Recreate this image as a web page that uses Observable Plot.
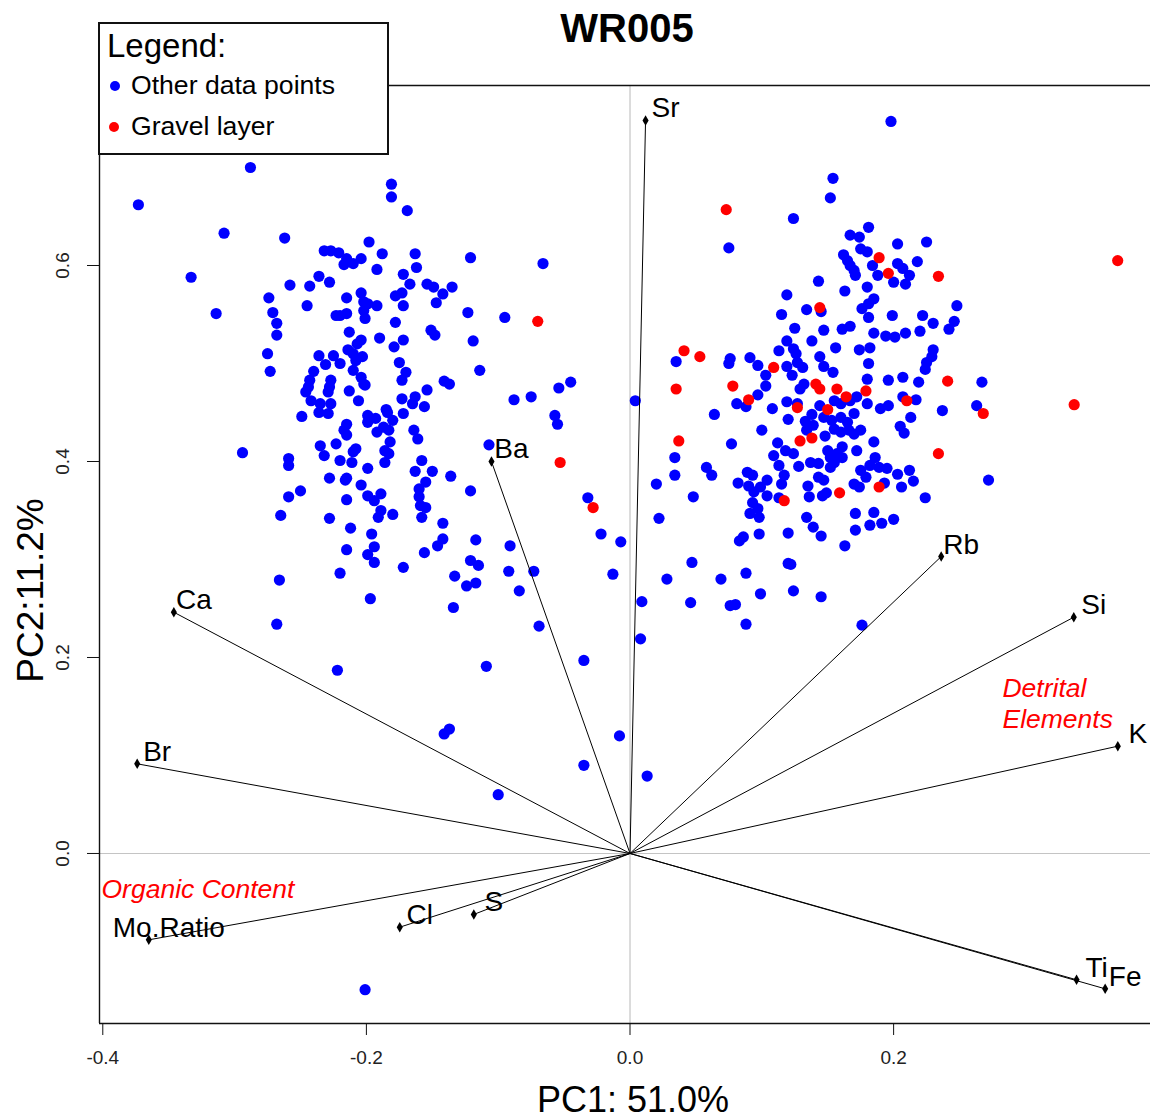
<!DOCTYPE html>
<html><head><meta charset="utf-8">
<script src="https://cdn.jsdelivr.net/npm/d3@7"></script>
<script src="https://cdn.jsdelivr.net/npm/@observablehq/plot@0.6"></script>
<style>
body{margin:0;background:#fff;font-family:"Liberation Sans",Arial,sans-serif;}
#wrap{position:relative;width:1150px;height:1119px;overflow:hidden;background:#fff;}
#chart{position:absolute;left:0;top:0;}
#title{position:absolute;left:477px;width:300px;top:8px;text-align:center;font-weight:bold;font-size:40px;line-height:1;color:#000;}
#legend{position:absolute;left:98px;top:22px;width:291px;height:133px;box-sizing:border-box;border:2px solid #111;background:#fff;}
.lg{position:absolute;line-height:1;color:#000;white-space:nowrap;}
.dot{position:absolute;width:10px;height:10px;border-radius:50%;}
</style></head>
<body>
<div id="wrap">
  <div id="chart"></div>
  <div id="title">WR005</div>
  <div id="legend"></div>
  <div class="lg" id="lgTitle" style="left:107px;top:29px;font-size:33px;"></div>
  <div class="dot" id="dot0" style="left:110px;top:81px;"></div>
  <div class="lg" id="lg0" style="left:131px;top:72px;font-size:26.6px;"></div>
  <div class="dot" id="dot1" style="left:109px;top:122px;"></div>
  <div class="lg" id="lg1" style="left:131px;top:113px;font-size:26.6px;"></div>
</div>
<script>
// ---------- data ----------
const title = "WR005";
const xLabel = "PC1: 51.0%";
const yLabel = "PC2:11.2%";
const legendTitle = "Legend:";
const groupNames = ["Other data points", "Gravel layer"];
const groupColors = ["#0000FF", "#FF0000"];

const xDomain = [-0.4025, 0.3949];
const yDomain = [-0.1735, 0.7837];
const xTicks = [-0.4, -0.2, 0.0, 0.2];
const yTicks = [0.0, 0.2, 0.4, 0.6];

// PC scores: other data points
const otherPoints = [
[-0.288,0.700],[-0.373,0.662],[-0.308,0.633],[-0.262,0.628],[-0.333,0.588],[-0.314,0.551],[-0.274,0.567],[-0.271,0.552],[-0.268,0.541],[-0.268,0.529],[-0.275,0.510],[-0.273,0.492],[-0.258,0.580],[-0.243,0.579],[-0.236,0.589],[-0.228,0.583],[-0.245,0.559],[-0.232,0.615],[-0.227,0.615],[-0.221,0.613],[-0.215,0.607],[-0.217,0.601],[-0.215,0.567],[-0.223,0.549],[-0.220,0.549],[-0.215,0.551],[-0.213,0.532],[-0.214,0.514],[-0.236,0.508],[-0.231,0.499],[-0.225,0.508],[-0.220,0.500],[-0.240,0.492],[-0.243,0.483],[-0.244,0.476],[-0.246,0.471],[-0.227,0.483],[-0.228,0.476],[-0.229,0.471],[-0.242,0.462],[-0.235,0.459],[-0.227,0.459],[-0.213,0.472],
[-0.181,0.683],[-0.181,0.670],[-0.169,0.656],[-0.198,0.624],[-0.210,0.602],[-0.204,0.607],[-0.188,0.612],[-0.163,0.612],[-0.162,0.598],[-0.192,0.596],[-0.121,0.608],[-0.066,0.602],[-0.172,0.591],[-0.167,0.581],[-0.154,0.581],[-0.149,0.578],[-0.142,0.571],[-0.135,0.578],[-0.147,0.562],[-0.204,0.572],[-0.202,0.563],[-0.199,0.561],[-0.192,0.559],[-0.202,0.554],[-0.201,0.546],[-0.178,0.569],[-0.173,0.572],[-0.172,0.559],[-0.178,0.542],[-0.123,0.552],[-0.095,0.547],[-0.204,0.524],[-0.207,0.520],[-0.190,0.526],[-0.172,0.524],[-0.179,0.517],[-0.151,0.534],[-0.148,0.529],[-0.119,0.523],[-0.210,0.510],[-0.203,0.507],[-0.208,0.503],[-0.175,0.501],[-0.170,0.491],[-0.173,0.483],[-0.210,0.493],[-0.204,0.486],[-0.202,0.479],[-0.201,0.478],[-0.141,0.482],[-0.137,0.479],[-0.114,0.493],[-0.206,0.462],[-0.154,0.473],[-0.173,0.464],[-0.163,0.466],[-0.165,0.459],[-0.156,0.456],[-0.185,0.453],[-0.088,0.463],[-0.075,0.466],[-0.054,0.475],
[-0.294,0.409],[-0.259,0.403],[-0.259,0.396],[-0.249,0.446],[-0.236,0.450],[-0.229,0.449],[-0.199,0.447],[-0.193,0.444],[-0.199,0.440],[-0.184,0.450],[-0.180,0.442],[-0.187,0.435],[-0.192,0.430],[-0.183,0.432],[-0.172,0.449],[-0.215,0.438],[-0.217,0.432],[-0.215,0.427],[-0.223,0.418],[-0.235,0.416],[-0.232,0.406],[-0.208,0.413],[-0.210,0.410],[-0.220,0.401],[-0.211,0.399],[-0.182,0.420],[-0.186,0.411],[-0.183,0.408],[-0.186,0.399],[-0.164,0.432],[-0.161,0.423],[-0.199,0.393],[-0.228,0.383],[-0.215,0.383],[-0.216,0.381],[-0.204,0.376],[-0.250,0.370],[-0.259,0.364],[-0.265,0.345],[-0.215,0.361],[-0.199,0.365],[-0.194,0.360],[-0.189,0.367],[-0.189,0.350],[-0.191,0.343],[-0.180,0.346],[-0.228,0.342],[-0.158,0.401],[-0.163,0.390],[-0.150,0.390],[-0.155,0.379],[-0.160,0.372],[-0.160,0.364],[-0.159,0.355],[-0.155,0.353],[-0.158,0.343],[-0.136,0.385],[-0.121,0.370],[-0.107,0.417],[-0.142,0.337],[-0.212,0.332],[-0.196,0.326],[-0.215,0.310],[-0.194,0.313],[-0.199,0.305],[-0.194,0.297],[-0.142,0.321],[-0.146,0.314],[-0.156,0.307],[-0.117,0.320],[-0.091,0.314],[-0.172,0.292],[-0.220,0.286],[-0.121,0.299],[-0.115,0.294],[-0.133,0.283],[-0.124,0.273],[-0.117,0.276],[-0.092,0.288],[-0.073,0.288],[-0.084,0.268],[-0.266,0.279],[-0.197,0.260],[-0.134,0.251],[-0.268,0.234],[-0.069,0.232],[-0.057,0.447],[-0.055,0.438],[-0.222,0.187],[-0.109,0.191],[-0.141,0.122],[-0.137,0.127],[-0.100,0.060],[-0.201,-0.139],
[-0.045,0.481],[0.004,0.462],[-0.032,0.363],[-0.022,0.326],[-0.007,0.318],[-0.013,0.285],[0.008,0.219],[-0.035,0.197],[-0.008,0.120],[-0.035,0.090],[0.013,0.079],
[0.198,0.747],[0.154,0.689],[0.152,0.669],[0.124,0.648],[0.075,0.618],[0.181,0.639],[0.167,0.631],[0.174,0.629],[0.175,0.617],[0.180,0.614],[0.162,0.611],[0.165,0.605],[0.167,0.600],[0.170,0.595],[0.171,0.590],[0.203,0.622],[0.203,0.602],[0.184,0.600],[0.188,0.590],[0.180,0.578],[0.200,0.583],[0.143,0.584],[0.119,0.570],[0.163,0.574],[0.185,0.566],[0.181,0.561],[0.176,0.556],[0.181,0.547],[0.134,0.555],[0.145,0.553],[0.115,0.550],[0.199,0.549],[0.125,0.536],[0.147,0.534],[0.161,0.535],[0.167,0.538],[0.185,0.531],[0.194,0.528],[0.201,0.527],[0.138,0.523],[0.119,0.523],[0.113,0.513],[0.124,0.515],[0.126,0.510],[0.156,0.516],[0.174,0.514],[0.182,0.516],[0.035,0.502],[0.076,0.505],[0.075,0.500],[0.091,0.506],[0.097,0.498],[0.119,0.497],[0.127,0.501],[0.131,0.496],[0.123,0.488],[0.144,0.507],[0.147,0.497],[0.154,0.491],[0.181,0.500],[0.103,0.488],[0.103,0.477],[0.180,0.484],[0.196,0.483],[0.097,0.468],[0.081,0.459],[0.088,0.456],[0.108,0.454],[0.064,0.448],[0.119,0.461],[0.127,0.459],[0.132,0.479],[0.129,0.474],[0.144,0.457],[0.155,0.462],[0.160,0.459],[0.167,0.462],[0.172,0.466],[0.180,0.459],[0.190,0.454],[0.196,0.457],[0.138,0.448],[0.133,0.441],[0.139,0.437],[0.134,0.432],[0.147,0.445],[0.153,0.442],[0.160,0.445],[0.165,0.440],[0.170,0.449],[0.120,0.443],[0.100,0.432],[0.155,0.433],[0.160,0.430],[0.166,0.432],[0.170,0.428],[0.175,0.432],[0.148,0.426],[0.077,0.418],[0.112,0.419],[0.118,0.411],[0.124,0.408],[0.109,0.406],[0.113,0.396],[0.128,0.395],[0.137,0.399],[0.143,0.398],[0.150,0.411],[0.152,0.404],[0.157,0.408],[0.161,0.415],[0.161,0.404],[0.155,0.399],[0.152,0.394],[0.172,0.411],[0.185,0.420],[0.186,0.404],[0.182,0.396],[0.189,0.394],[0.195,0.393],[0.175,0.391],[0.058,0.394],[0.062,0.386],[0.034,0.404],[0.034,0.386],[0.089,0.389],[0.093,0.386],[0.117,0.386],[0.115,0.377],[0.143,0.384],[0.147,0.381],[0.203,0.387],[0.179,0.384],[0.170,0.377],[0.174,0.374],[0.104,0.381],[0.099,0.374],[0.090,0.375],[0.082,0.378],[0.020,0.377],[0.048,0.364],[0.022,0.342],[0.149,0.368],[0.146,0.365],[0.135,0.375],[0.136,0.364],[0.113,0.363],[0.104,0.365],[0.094,0.369],[0.093,0.358],[0.097,0.352],[0.091,0.347],[0.098,0.343],[0.134,0.343],[0.139,0.333],[0.120,0.327],[0.145,0.324],[0.171,0.347],[0.185,0.348],[0.171,0.330],[0.182,0.335],[0.191,0.337],[0.200,0.341],[0.163,0.314],[0.086,0.323],[0.083,0.319],[0.098,0.326],[0.120,0.296],[0.122,0.295],[0.047,0.297],[0.028,0.280],[0.069,0.280],[0.088,0.286],[0.009,0.257],[0.046,0.256],[0.076,0.253],[0.080,0.254],[0.099,0.265],[0.124,0.268],[0.145,0.262],[0.088,0.234],[0.176,0.233],
[0.225,0.624],[0.207,0.597],[0.212,0.590],[0.209,0.581],[0.218,0.604],[0.248,0.559],[0.222,0.549],[0.230,0.541],[0.246,0.543],[0.242,0.535],[0.209,0.531],[0.220,0.533],[0.230,0.514],[0.229,0.507],[0.225,0.501],[0.224,0.494],[0.207,0.486],[0.219,0.481],[0.267,0.481],[0.207,0.466],[0.217,0.463],[0.237,0.452],[0.263,0.457],[0.213,0.445],[0.205,0.436],[0.208,0.429],[0.212,0.391],[0.215,0.380],[0.206,0.374],[0.193,0.378],[0.272,0.381],[0.224,0.363]
];

// PC scores: gravel layer
const gravelPoints = [
[-0.070,0.543],[-0.053,0.399],[-0.028,0.353],[0.073,0.657],[0.189,0.608],[0.196,0.592],[0.144,0.557],[0.041,0.513],[0.053,0.507],[0.109,0.496],[0.035,0.474],[0.078,0.477],[0.090,0.463],[0.127,0.455],[0.141,0.479],[0.144,0.474],[0.157,0.474],[0.164,0.466],[0.179,0.472],[0.150,0.453],[0.129,0.421],[0.138,0.424],[0.037,0.421],[0.189,0.374],[0.159,0.368],[0.117,0.360],[0.234,0.589],[0.370,0.605],[0.241,0.482],[0.210,0.462],[0.268,0.449],[0.337,0.458],[0.234,0.408]
];

// loadings (arrows)
const loadingNames = ["Sr","Ba","Ca","Br","Mo.Ratio","Cl","S","Ti","Fe","K","Si","Rb"];
const loadingPC1  = [0.0118,-0.1051,-0.3461,-0.3739,-0.3651,-0.1747,-0.1185,0.3388,0.3605,0.3701,0.3367,0.2361];
const loadingPC2  = [0.748, 0.400, 0.2462, 0.0915,-0.0881,-0.0752,-0.0622,-0.1289,-0.1381,0.1095,0.2411,0.303];

// group annotations
const annotationText = ["Organic Content", "Detrital\nElements"];
const annotationX = [-0.401, 0.2826];
const annotationY = [-0.0357, 0.1536];

// ---------- build ----------
const other = otherPoints.map(([x, y]) => ({x, y}));
const gravel = gravelPoints.map(([x, y]) => ({x, y}));
const loadings = loadingNames.map((name, i) => ({name, x: loadingPC1[i], y: loadingPC2[i]}));
const notes = annotationText.map((t, i) => ({t, x: annotationX[i], y: annotationY[i]}));
const fmt = d => d.toFixed(1);
const font = "'Liberation Sans', Arial, sans-serif";

const chart = Plot.plot({
  width: 1150,
  height: 1119,
  marginLeft: 99,
  marginRight: 0,
  marginTop: 85,
  marginBottom: 96,
  style: {fontFamily: font, background: "transparent", overflow: "visible"},
  x: {domain: xDomain},
  y: {domain: yDomain},
  marks: [
    Plot.ruleX([0], {stroke: "#c4c4c4", strokeWidth: 1.2}),
    Plot.ruleY([0], {stroke: "#c4c4c4", strokeWidth: 1.2}),
    Plot.dot(other, {x: "x", y: "y", r: 5.6, fill: groupColors[0], stroke: "none"}),
    Plot.dot(gravel, {x: "x", y: "y", r: 5.6, fill: groupColors[1], stroke: "none"}),
    Plot.link(loadings, {x1: () => 0, y1: () => 0, x2: "x", y2: "y", stroke: "#000", strokeWidth: 1}),
    Plot.dot(loadings, {x: "x", y: "y", symbol: "diamond", r: 3.2, fill: "#000", stroke: "none"}),
    Plot.text(loadings, {x: "x", y: "y", text: "name", dx: 20, dy: -12, fontSize: 28, fill: "#000", textAnchor: "middle", lineAnchor: "middle"}),
    Plot.text(notes, {x: "x", y: "y", text: "t", fontSize: 26.5, fontStyle: "italic", fill: "#FF0000", textAnchor: "start", lineAnchor: "middle", lineHeight: 1.17}),
    // frame (top, left, bottom)
    Plot.ruleY([yDomain[1]], {stroke: "#111", strokeWidth: 1.4}),
    Plot.ruleY([yDomain[0]], {stroke: "#111", strokeWidth: 1.4}),
    Plot.ruleX([xDomain[0]], {stroke: "#111", strokeWidth: 1.4}),
    // axes
    Plot.axisX(xTicks, {anchor: "bottom", tickSize: 12, tickPadding: 15, fontSize: 19, tickFormat: fmt, label: null, stroke: "#111", fill: "#222"}),
    Plot.axisY(yTicks, {anchor: "left", tickSize: 12, tickFormat: () => "", label: null, stroke: "#111"}),
    Plot.text(yTicks, {x: () => xDomain[0], y: d => d, text: d => fmt(d), rotate: -90, dx: -37, fontSize: 19, fill: "#222", textAnchor: "middle", lineAnchor: "middle"}),
    Plot.text([xLabel], {frameAnchor: "bottom", text: d => d, dx: 8, dy: 77, fontSize: 36, fill: "#000", lineAnchor: "middle"}),
    Plot.text([yLabel], {frameAnchor: "left", text: d => d, dx: -68, dy: 36, rotate: -90, fontSize: 37, fill: "#000", textAnchor: "middle", lineAnchor: "middle"})
  ]
});
document.getElementById("chart").appendChild(chart);
document.getElementById("title").textContent = title;
document.getElementById("lgTitle").textContent = legendTitle;
document.getElementById("lg0").textContent = groupNames[0];
document.getElementById("lg1").textContent = groupNames[1];
document.getElementById("dot0").style.background = groupColors[0];
document.getElementById("dot1").style.background = groupColors[1];
</script>
</body></html>
